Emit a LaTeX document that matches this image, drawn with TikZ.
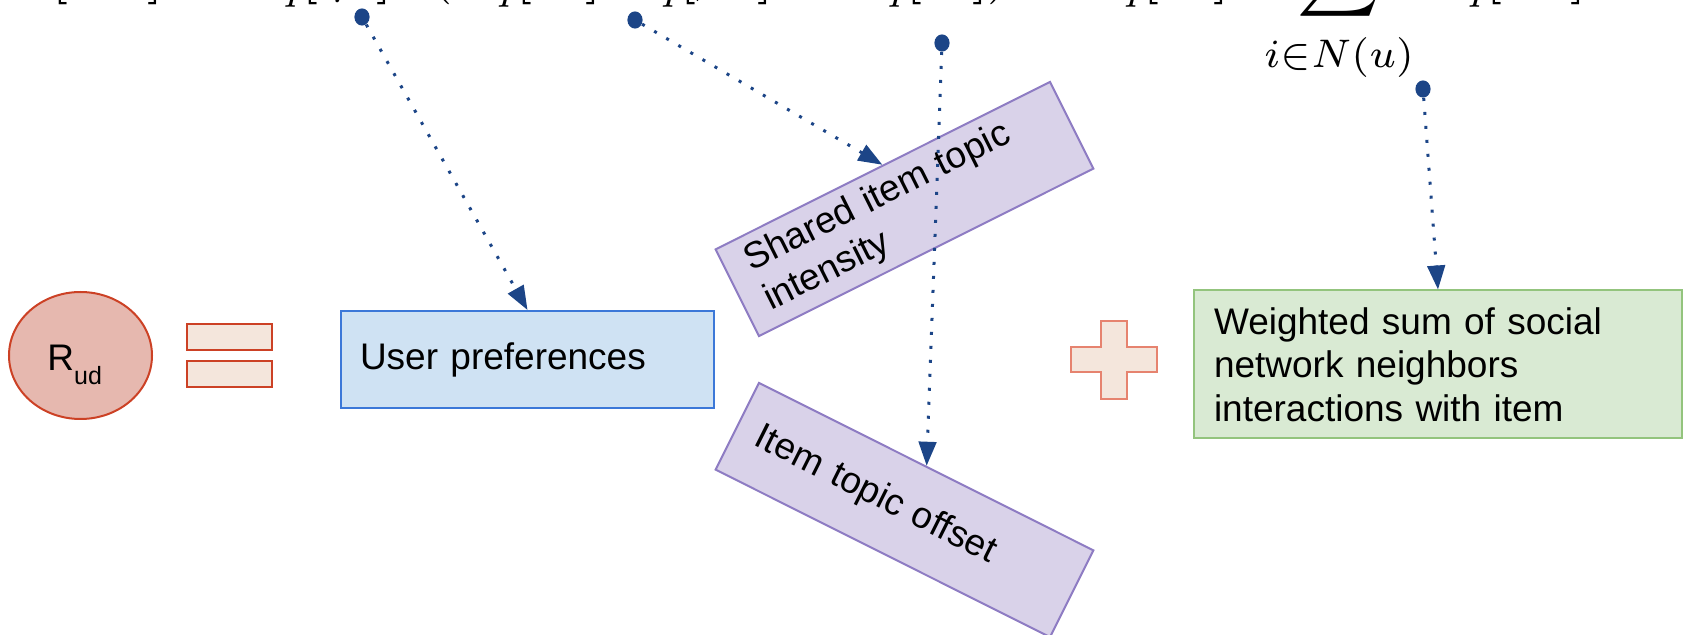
\documentclass[tikz,border=0pt]{standalone}
\usepackage{amssymb}
\usepackage{graphicx}
\usepackage[no-math]{fontspec}
\setmainfont{Liberation Sans}
\usetikzlibrary{arrows.meta,shapes.geometric}

\definecolor{rudfill}{HTML}{E6B8AF}
\definecolor{rudline}{HTML}{CC4125}
\definecolor{opfill}{HTML}{F4E6DC}
\definecolor{plusline}{HTML}{E6836F}
\definecolor{userfill}{HTML}{CFE2F3}
\definecolor{userline}{HTML}{3C78D8}
\definecolor{topicfill}{HTML}{D9D2E9}
\definecolor{topicline}{HTML}{8E7CC3}
\definecolor{socfill}{HTML}{D9EAD3}
\definecolor{socline}{HTML}{93C47D}
\definecolor{linkblue}{HTML}{1C4587}

\tikzset{
  txt/.style={font=\fontsize{18.5}{21.75}\selectfont},
  card/.style={txt, draw, line width=1pt, align=left, inner ysep=0pt, minimum height=48.5pt},
  userbox/.style={card, fill=userfill, draw=userline, text width=167.5pt, inner xsep=9.5pt},
  topicbox/.style={card, fill=topicfill, draw=topicline, text width=165pt, inner xsep=11pt},
  socbox/.style={card, fill=socfill, draw=socline, text width=224pt, inner xsep=10pt, minimum height=74pt},
  opbar/.style={draw=rudline, fill=opfill, line width=1.3pt, inner sep=0pt, minimum width=42.5pt, minimum height=13pt},
  plusshape/.style={draw=plusline, fill=opfill, line width=1pt},
  anchordot/.style={ellipse, fill=linkblue, inner sep=0pt, minimum width=7.6pt, minimum height=8.6pt},
  dotlink/.style={linkblue, line width=1.5pt, dash pattern=on 1.5pt off 5.5pt,
    -{Triangle[width=8.8pt,length=12pt]}},
}

\begin{document}
\begin{tikzpicture}[x=0.5pt, y=-0.5pt]
\useasboundingbox (0,0) rectangle (1687,635);

% model equation along the top edge
\node[anchor=base west, inner sep=0pt] (formula) at (14,-9)
  {\scalebox{2.85}{$\displaystyle \mathbb{E}[r_{ud}] = \mathbb{E}_q[\eta_u]^{\top}(\mathbb{E}_q[\theta_d]\;\mathbb{E}_q[\beta_u] + \mathbb{E}_q[\epsilon_d]) + \mathbb{E}_q[\tau_u]\;\,\sum_{\rule{0pt}{6.2pt}i\in N(u)}\mathbb{E}_q[r_{id}]\,\tau_{ui}$}};

% left-hand side and operators
\node[draw=rudline, fill=rudfill, ellipse, line width=1pt, minimum width=71.5pt,
      minimum height=63.5pt, inner sep=0pt] (rud) at (80.5,355.5) {};
\node[txt, anchor=base west, inner sep=0pt] (rudlabel) at (47,371)
  {R\raisebox{-7pt}{\fontsize{12.5}{13}\selectfont ud}};
\node[opbar] (eqtop) at (229.5,337) {};
\node[opbar] (eqbot) at (229.5,374) {};
\draw[plusshape] (1101,321) -- (1127,321) -- (1127,347) -- (1157,347) -- (1157,372)
  -- (1127,372) -- (1127,399) -- (1101,399) -- (1101,372) -- (1071,372)
  -- (1071,347) -- (1101,347) -- cycle;

% term boxes
\node[userbox] (user) at (527.5,359.5) {User preferences};
\node[topicbox, rotate=26.6] (shared) at (904.5,209) {Shared item topic\\intensity};
\node[topicbox, rotate=-26.6] (offset) at (904.5,510) {Item topic offset};
\node[socbox] (social) at (1438,364.5)
  {Weighted sum of social\\network neighbors\\interactions with item};

% pointers from the equation terms
\node[anchordot] (d1) at (362,17) {};
\node[anchordot] (d2) at (635,20) {};
\node[anchordot] (d3) at (942,43) {};
\node[anchordot] (d4) at (1423,89) {};
\draw[dotlink] (d1) -- (user.north);
\draw[dotlink] (d2) -- (shared.north);
\draw[dotlink] (d3) -- (offset.north);
\draw[dotlink] (d4) -- (social.north);
\end{tikzpicture}
\end{document}
